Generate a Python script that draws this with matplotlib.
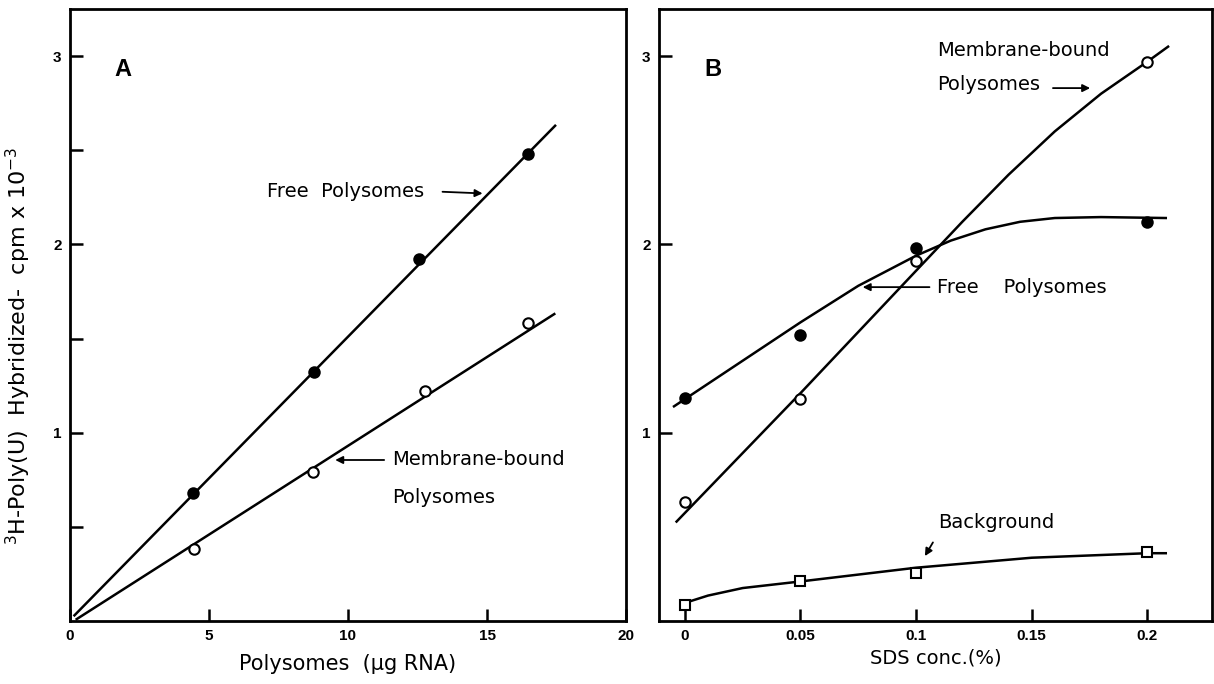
import matplotlib
matplotlib.use('Agg')
import matplotlib.pyplot as plt

# Panel A data: hybridization vs polysome amount
a_free_x = [4.42, 8.79, 12.55, 16.49]
a_free_y = [0.68, 1.32, 1.92, 2.48]
a_memb_x = [4.47, 8.75, 12.77, 16.49]
a_memb_y = [0.38, 0.79, 1.22, 1.58]
# drawn fit lines (end points)
a_free_line_x = [0.16, 17.45]
a_free_line_y = [0.03, 2.63]
a_memb_line_x = [0.24, 17.42]
a_memb_line_y = [0.01, 1.63]

# Panel B data: hybridization vs SDS concentration
b_x = [0, 0.05, 0.1, 0.2]
b_free_y = [1.185, 1.52, 1.98, 2.12]
b_memb_y = [0.63, 1.18, 1.91, 2.97]
b_back_y = [0.084, 0.21, 0.255, 0.365]
# hand-drawn curves
b_free_curve_x = [-0.0047, 0.05, 0.075, 0.1, 0.115, 0.13, 0.145, 0.16, 0.18, 0.208]
b_free_curve_y = [1.14, 1.586, 1.78, 1.94, 2.02, 2.08, 2.12, 2.14, 2.145, 2.14]
b_memb_curve_x = [-0.0036, 0.05, 0.1, 0.12, 0.14, 0.16, 0.18, 0.2, 0.209]
b_memb_curve_y = [0.528, 1.21, 1.86, 2.12, 2.37, 2.60, 2.80, 2.97, 3.05]
b_back_curve_x = [0.001, 0.01, 0.025, 0.05, 0.1, 0.15, 0.2, 0.208]
b_back_curve_y = [0.10, 0.135, 0.175, 0.21, 0.283, 0.336, 0.36, 0.36]

txt_font = ['DejaVu Sans']
tick_font = ['Liberation Sans', 'DejaVu Sans']

fig = plt.figure(figsize=(12.14, 6.84), dpi=100)
ax1 = fig.add_axes([70 / 1214, 63 / 684, 556 / 1214, 612 / 684])
ax2 = fig.add_axes([659 / 1214, 63 / 684, 553 / 1214, 612 / 684])

lw = 1.8
mk = dict(markersize=7.5, markeredgewidth=1.5, linestyle='none', markeredgecolor='black')
arrow = dict(arrowstyle='-|>', lw=1.3, color='black', mutation_scale=11)
fs = 14

# ---- Panel A ----
ax1.plot(a_free_line_x, a_free_line_y, color='black', lw=lw)
ax1.plot(a_memb_line_x, a_memb_line_y, color='black', lw=lw)
ax1.plot(a_free_x, a_free_y, marker='o', markerfacecolor='black', **mk)
ax1.plot(a_memb_x, a_memb_y, marker='o', markerfacecolor='white', **mk)

ax1.set_xlim(0, 20)
ax1.set_ylim(0, 3.25)
ax1.set_xticks([0, 5, 10, 15, 20])
ax1.set_yticks([0.5, 1, 1.5, 2, 2.5, 3])
ax1.set_yticklabels(['', '1', '', '2', '', '3'])

ax1.text(1.9, 2.93, 'A', fontsize=17, fontweight='bold', family=tick_font, va='center', ha='center')
ax1.annotate('', xy=(14.94, 2.27), xytext=(13.3, 2.28), arrowprops=arrow)
ax1.text(7.08, 2.28, 'Free  Polysomes', fontsize=fs, family=txt_font, va='center', ha='left')
ax1.annotate('', xy=(9.44, 0.855), xytext=(11.4, 0.855), arrowprops=arrow)
ax1.text(11.6, 0.855, 'Membrane-bound', fontsize=fs, family=txt_font, va='center', ha='left')
ax1.text(11.6, 0.657, 'Polysomes', fontsize=fs, family=txt_font, va='center', ha='left')

ax1.set_xlabel('Polysomes  (μg RNA)', fontsize=15, family=txt_font, labelpad=8)
ax1.set_ylabel(r'$^{3}$H-Poly(U)  Hybridized-  cpm x 10$^{-3}$', fontsize=16, family=txt_font)
ax1.yaxis.set_label_coords(-0.066, 0.45)

# ---- Panel B ----
ax2.plot(b_free_curve_x, b_free_curve_y, color='black', lw=lw)
ax2.plot(b_memb_curve_x, b_memb_curve_y, color='black', lw=lw)
ax2.plot(b_back_curve_x, b_back_curve_y, color='black', lw=lw)
ax2.plot(b_x, b_free_y, marker='o', markerfacecolor='black', **mk)
ax2.plot(b_x, b_memb_y, marker='o', markerfacecolor='white', **mk)
ax2.plot(b_x, b_back_y, marker='s', markerfacecolor='white', markersize=6.5,
         markeredgewidth=1.5, linestyle='none', markeredgecolor='black')

ax2.set_xlim(-0.0112, 0.228)
ax2.set_ylim(0, 3.25)
ax2.set_xticks([0, 0.05, 0.1, 0.15, 0.2])
ax2.set_xticklabels(['0', '0.05', '0.1', '0.15', '0.2'])
ax2.set_yticks([1, 2, 3])
ax2.set_yticklabels(['1', '2', '3'])

ax2.text(0.0121, 2.93, 'B', fontsize=17, fontweight='bold', family=tick_font, va='center', ha='center')
ax2.text(0.1092, 3.028, 'Membrane-bound', fontsize=fs, family=txt_font, va='center', ha='left')
ax2.text(0.1092, 2.848, 'Polysomes', fontsize=fs, family=txt_font, va='center', ha='left')
ax2.annotate('', xy=(0.1765, 2.83), xytext=(0.158, 2.83), arrowprops=arrow)
ax2.text(0.1092, 1.773, 'Free    Polysomes', fontsize=fs, family=txt_font, va='center', ha='left')
ax2.annotate('', xy=(0.0757, 1.773), xytext=(0.107, 1.773), arrowprops=arrow)
ax2.text(0.1095, 0.523, 'Background', fontsize=fs, family=txt_font, va='center', ha='left')
ax2.annotate('', xy=(0.1032, 0.332), xytext=(0.1079, 0.43), arrowprops=arrow)

ax2.set_xlabel('SDS conc.(%)', fontsize=14, family=txt_font, labelpad=4)

for ax in (ax1, ax2):
    for s in ax.spines.values():
        s.set_linewidth(2)
    ax.tick_params(direction='in', length=9, width=1.8, pad=6)
    for lab in ax.get_xticklabels() + ax.get_yticklabels():
        lab.set_fontweight('bold')
        lab.set_fontsize(11)
        lab.set_family(tick_font)

plt.savefig('out.png', dpi=100)
